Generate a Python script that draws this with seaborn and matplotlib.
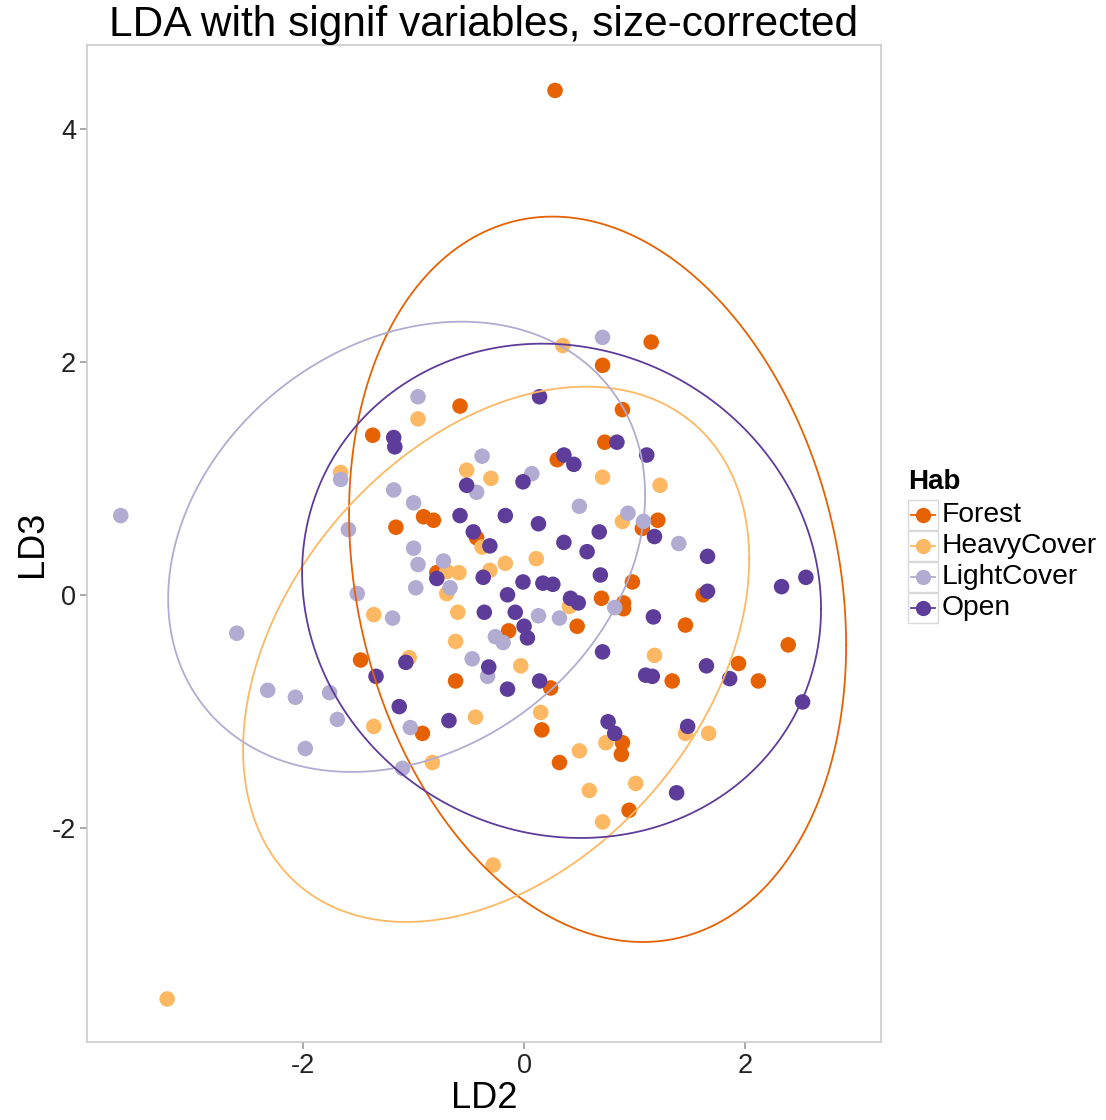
import numpy as np
import pandas as pd
import seaborn as sns
import matplotlib
matplotlib.use('Agg')
import matplotlib.pyplot as plt
from matplotlib.lines import Line2D
from matplotlib.patches import Rectangle

# LD scores, one pair of lists per habitat
forest_ld2 = [0.28, 1.15, 0.71, -0.58, 0.89, -1.37, 0.73, 0.30, -1.16, -0.91, -0.82, -0.79,
              -0.43, 1.07, 1.21, 0.98, 0.70, 0.90, 0.90, 0.48, -0.14, 1.46, 1.62, -1.48,
              -0.62, 0.24, 1.34, 1.94, 2.12, 2.39, 0.16, -0.92, 0.32, 0.89, 0.88, 0.95]
forest_ld3 = [4.33, 2.17, 1.97, 1.62, 1.59, 1.37, 1.31, 1.16, 0.58, 0.67, 0.64, 0.19,
              0.49, 0.57, 0.64, 0.11, -0.03, -0.07, -0.12, -0.27, -0.31, -0.26, 0.00, -0.56,
              -0.74, -0.80, -0.74, -0.59, -0.74, -0.43, -1.16, -1.19, -1.44, -1.27, -1.37, -1.85]

heavy_ld2 = [-3.23, 0.35, -0.96, -1.66, -0.52, -0.30, 0.71, 1.23, 0.89, -0.38, -0.17, 0.11,
             -0.70, -0.59, -0.31, -0.70, -0.60, -1.36, -0.62, -0.03, -1.04, -0.44, -1.36, -0.83,
             0.15, 0.50, 0.74, 0.59, 0.71, -0.28, 1.01, 1.67, 1.46, 1.18, 0.41]
heavy_ld3 = [-3.47, 2.14, 1.51, 1.05, 1.07, 1.00, 1.01, 0.94, 0.63, 0.41, 0.27, 0.31,
             0.20, 0.19, 0.21, 0.01, -0.15, -0.17, -0.40, -0.61, -0.54, -1.05, -1.13, -1.44,
             -1.01, -1.34, -1.27, -1.68, -1.95, -2.32, -1.62, -1.19, -1.19, -0.52, -0.10]

light_ld2 = [-3.65, -2.60, -2.32, -2.07, -1.76, -1.69, -1.98, -1.51, -1.66, -1.59, -0.96, -1.18,
             -1.00, -1.00, -0.96, -0.73, -0.67, -0.98, -0.38, -0.43, 0.07, 0.50, 0.71, 0.94,
             1.08, 1.40, 0.13, 0.32, -0.26, -0.19, -0.47, -0.33, -1.03, -1.10, -1.19, 0.82]
light_ld3 = [0.68, -0.33, -0.82, -0.88, -0.84, -1.07, -1.32, 0.01, 0.99, 0.56, 1.70, 0.90,
             0.79, 0.40, 0.26, 0.29, 0.06, 0.06, 1.19, 0.88, 1.04, 0.76, 2.21, 0.70,
             0.63, 0.44, -0.18, -0.20, -0.36, -0.41, -0.55, -0.70, -1.14, -1.49, -0.20, -0.11]

open_ld2 = [0.14, -1.18, -1.17, 0.36, 0.45, 0.84, 1.11, -0.01, -0.52, -0.58, -0.17, 0.13,
            -0.46, -0.31, 0.36, 0.57, 0.68, 1.18, 1.66, 0.69, -0.37, -0.01, 0.17, 0.26,
            -0.79, -0.15, 0.42, 0.49, 2.55, 2.33, 1.66, -0.36, -0.08, 0.00, 0.03, -1.07,
            -1.34, -0.32, -0.15, 0.14, -1.13, -0.68, 0.71, 0.76, 0.82, 1.17, 1.65, 1.10,
            1.16, 1.86, 2.52, 1.48, 1.38]
open_ld3 = [1.70, 1.35, 1.27, 1.20, 1.12, 1.31, 1.20, 0.97, 0.94, 0.68, 0.68, 0.61,
            0.54, 0.42, 0.45, 0.37, 0.54, 0.50, 0.33, 0.17, 0.15, 0.11, 0.10, 0.09,
            0.14, 0.00, -0.03, -0.07, 0.15, 0.07, 0.03, -0.15, -0.15, -0.27, -0.37, -0.58,
            -0.70, -0.62, -0.81, -0.74, -0.96, -1.08, -0.49, -1.09, -1.19, -0.19, -0.61, -0.69,
            -0.70, -0.72, -0.92, -1.13, -1.70]

habitats = ['Forest', 'HeavyCover', 'LightCover', 'Open']
colors = ['#E66101', '#FDB863', '#B2ABD2', '#5E3C99']

# 95% ellipses: centre, half extents along LD2/LD3, covariance term
ell_cx = [0.665, -0.253, -1.063, 0.339]
ell_cy = [0.133, -0.511, 0.412, 0.034]
ell_hx = [2.249, 2.290, 2.158, 2.348]
ell_hy = [3.114, 2.298, 1.933, 2.122]
ell_sxy = [-1.268, 1.871, 0.962, -0.365]

df = pd.concat([
    pd.DataFrame({'LD2': forest_ld2, 'LD3': forest_ld3, 'Hab': 'Forest'}),
    pd.DataFrame({'LD2': heavy_ld2, 'LD3': heavy_ld3, 'Hab': 'HeavyCover'}),
    pd.DataFrame({'LD2': light_ld2, 'LD3': light_ld3, 'Hab': 'LightCover'}),
    pd.DataFrame({'LD2': open_ld2, 'LD3': open_ld3, 'Hab': 'Open'}),
], ignore_index=True)


def ellipse_path(cx, cy, hx, hy, sxy, segments=240):
    shape = np.array([[hx ** 2, sxy], [sxy, hy ** 2]])
    chol = np.linalg.cholesky(shape).T
    ang = np.linspace(0, 2 * np.pi, segments + 1)
    circ = np.column_stack([np.cos(ang), np.sin(ang)])
    return np.array([cx, cy]) + circ @ chol


plt.rcParams['font.family'] = ['Liberation Sans', 'DejaVu Sans']
plt.rcParams['axes.unicode_minus'] = False
fig = plt.figure(figsize=(11.06, 11.2), dpi=100)
ax = fig.add_axes([0.0787, 0.0696, 0.7179, 0.8902])

sns.scatterplot(data=df, x='LD2', y='LD3', hue='Hab', hue_order=habitats,
                palette=colors, s=125, linewidth=0, alpha=1, ax=ax, legend=False)

for i, col in enumerate(colors):
    e = ellipse_path(ell_cx[i], ell_cy[i], ell_hx[i], ell_hy[i], ell_sxy[i])
    ax.plot(e[:, 0], e[:, 1], color=col, lw=1.3)

ax.set_xlim(-3.955, 3.23)
ax.set_ylim(-3.84, 4.72)
ax.set_xticks([-2, 0, 2])
ax.set_yticks([-2, 0, 2, 4])
ax.tick_params(labelsize=19.5, colors='#999999', labelcolor='#222222', length=5, width=1.2, pad=3)
for s in ax.spines.values():
    s.set_color('#CCCCCC')
    s.set_linewidth(1.2)
ax.set_xlabel('LD2', fontsize=26, labelpad=1)
ax.set_ylabel('LD3', fontsize=26, labelpad=1)
ax.set_title('LDA with signif variables, size-corrected', fontsize=30.5, pad=2)


# legend drawn by hand in figure pixels, ggplot style key boxes
def fx(px):
    return px / 1106


def fy(py):
    return 1 - py / 1120


fig.text(fx(908), fy(482), 'Hab', fontsize=20, fontweight='bold', va='center', ha='left')
for i, (hab, col) in enumerate(zip(habitats, colors)):
    yc = 515 + 31 * i
    fig.add_artist(Rectangle((fx(908), fy(yc + 15)), 30 / 1106, 30 / 1120,
                             transform=fig.transFigure, facecolor='white',
                             edgecolor='#D9D9D9', lw=1.0))
    fig.add_artist(Line2D([fx(911), fx(935)], [fy(yc), fy(yc)], transform=fig.transFigure,
                          color=col, lw=1.3))
    fig.add_artist(Line2D([fx(923)], [fy(yc)], transform=fig.transFigure, color=col,
                          marker='o', markersize=11, markeredgewidth=0, linestyle='none'))
    fig.text(fx(942), fy(yc), hab, fontsize=20.3, va='center', ha='left')

fig.savefig('out.png', dpi=100)
